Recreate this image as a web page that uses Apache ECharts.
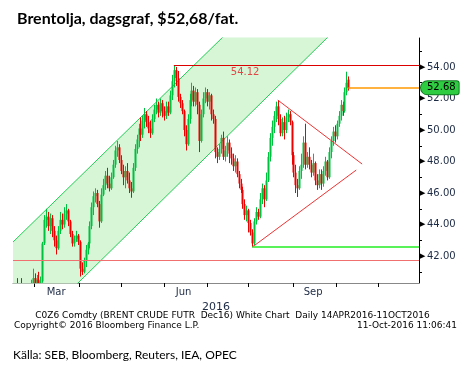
<!DOCTYPE html>
<html><head><meta charset="utf-8">
<script src="https://cdn.jsdelivr.net/npm/echarts@6/dist/echarts.min.js"></script>
<style>html,body{margin:0;padding:0;background:#fff}#c{width:465px;height:373px}</style>
</head><body><div id="c"></div>
<script>
const titleText = 'Brentolja, dagsgraf, $52,68/fat.';
const sourceText = 'Källa: SEB, Bloomberg, Reuters, IEA, OPEC';
const footer1 = 'C0Z6 Comdty (BRENT CRUDE FUTR  Dec16) White Chart  Daily 14APR2016-11OCT2016';
const footer2L = 'Copyright\u00a9 2016 Bloomberg Finance L.P.';
const footer2R = '11-Oct-2016 11:06:41';
const axisYear = '2016';
const firstDay = '2016-02-15', lastDay = '2016-11-30';
const monthLabels = {'2016-03-16':'Mar','2016-06-15':'Jun','2016-09-15':'Sep'};
const yMin = 40.29, yMax = 55.84;
const yLabelValues = [42,44,46,48,50,52,54];
const yMinorValues = [41,43,45,47,49,51,53,55];

// [open, close, low, high]
const candles = [
[39.6,39.3,38.9,39.9],[39.3,39.8,39.1,40.2],[39.8,39.5,39.2,40.6],[39.5,39.2,38.8,39.8],[39.2,38.9,38.6,40.6],
[38.9,38.5,38.2,39.3],[38.5,38.8,38.1,39.2],[38.8,39.4,38.6,39.7],[39.4,39.9,39.2,40.2],[39.9,40.1,39.6,40.5],
[40.1,40.6,39.8,41.2],[40.6,40.2,39.9,40.9],[40.2,40.5,39.9,40.8],[40.5,40.1,39.9,41.0],[40.1,40.4,39.8,40.7],
[40.4,42.8,40.3,42.9],[42.8,44.3,42.7,44.6],[44.3,44.5,43.8,45.0],[44.5,43.9,43.6,44.8],[43.9,44.4,43.4,44.7],
[44.4,43.6,43.2,44.6],[43.6,43.0,42.6,43.9],[43.0,42.5,42.1,43.3],[42.5,43.6,42.4,43.9],[43.6,44.3,43.4,44.8],
[44.3,44.0,43.7,44.7],[44.0,44.7,43.8,45.1],[44.7,44.9,44.3,45.3],[44.9,44.2,43.9,45.0],[44.2,43.4,43.2,44.3],
[43.4,42.8,42.6,43.6],[42.8,43.1,42.6,43.3],[43.1,43.3,42.9,43.6],[43.3,42.9,42.7,43.4],[42.9,41.2,40.7,43.0],
[41.2,41.0,40.8,41.6],[41.0,41.7,40.9,41.9],[41.7,42.4,41.3,42.7],[42.4,42.8,42.1,42.9],[42.8,43.9,42.5,44.2],
[43.9,45.1,43.7,45.4],[45.1,45.8,44.6,46.1],[45.8,46.0,45.4,46.3],[46.0,45.3,45.1,46.2],[45.3,44.2,43.8,45.5],
[44.2,45.9,44.1,46.3],[45.9,46.5,45.8,46.9],[46.5,47.1,46.2,47.4],[47.1,46.6,46.3,47.6],[46.6,46.3,46.1,47.1],
[46.3,47.0,46.2,47.3],[47.0,47.8,46.9,48.1],[47.8,48.7,47.6,49.0],[48.7,48.9,48.3,49.3],[48.9,48.1,47.9,49.1],
[48.1,47.4,47.2,48.4],[47.4,47.0,46.5,47.8],[47.0,47.4,46.3,47.7],[47.4,46.8,46.6,47.9],[46.8,46.3,46.0,47.3],
[46.3,46.1,45.7,46.7],[46.1,47.6,46.0,47.9],[47.6,48.8,47.4,49.1],[48.8,49.4,48.5,49.7],[49.4,50.1,48.9,50.4],
[50.1,49.7,49.3,50.8],[49.7,50.6,49.5,50.9],[50.6,51.0,50.1,51.4],[51.0,50.5,50.2,51.2],[50.5,50.1,49.8,50.9],
[50.1,49.8,49.5,50.6],[49.8,50.7,49.7,51.0],[50.7,51.3,50.5,51.6],[51.3,51.6,51.0,52.0],[51.6,51.1,50.8,51.8],
[51.1,51.7,50.9,52.0],[51.7,51.2,50.8,51.9],[51.2,50.9,50.6,51.5],[50.9,51.5,50.7,51.8],[51.5,51.1,50.9,51.8],
[51.1,52.2,51.0,52.5],[52.2,53.1,51.9,53.5],[53.1,53.8,52.7,54.12],[53.8,53.3,52.8,54.0],[53.3,52.1,51.8,53.75],
[52.1,51.7,51.4,52.3],[51.7,51.2,51.0,51.9],[51.2,50.0,49.6,51.3],[50.0,49.1,48.7,50.3],[49.1,50.7,49.0,51.0],
[50.7,51.9,50.4,52.3],[51.9,52.5,51.5,53.0],[52.5,51.8,51.5,52.8],[51.8,52.4,51.5,52.7],[52.4,51.6,51.0,52.6],
[51.6,49.3,48.6,51.8],[49.3,51.0,49.2,51.3],[51.0,52.0,50.8,52.4],[52.0,52.4,51.7,52.7],[52.4,51.8,51.5,52.6],
[51.8,52.2,51.3,52.4],[52.2,51.0,50.6,52.3],[51.0,50.7,50.4,51.3],[50.7,48.6,48.2,50.9],[48.6,48.3,47.9,48.9],
[48.3,48.8,48.1,49.1],[48.8,49.5,48.5,49.7],[49.5,48.3,48.1,49.9],[48.3,48.7,48.0,49.0],[48.7,49.2,48.3,49.6],
[49.2,48.5,47.9,49.4],[48.5,48.2,47.8,48.9],[48.2,47.7,47.4,48.5],[47.7,48.0,47.3,48.4],[48.0,47.2,47.0,48.2],
[47.2,46.6,46.3,47.4],[46.6,46.2,46.0,46.9],[46.2,45.3,45.0,46.4],[45.3,44.6,44.3,45.6],[44.6,44.9,44.2,45.2],
[44.9,44.1,43.5,45.0],[44.1,43.5,43.3,44.3],[43.5,42.8,42.57,43.7],[42.8,44.2,42.7,44.4],[44.2,44.8,44.0,45.1],
[44.8,44.5,44.3,45.0],[44.5,45.6,44.4,46.0],[45.6,46.3,45.3,46.6],[46.3,45.6,45.1,46.5],[45.6,46.8,45.5,47.3],
[46.8,48.3,46.7,48.6],[48.3,49.5,48.0,49.8],[49.5,50.2,49.0,50.6],[50.2,50.9,49.8,51.2],[50.9,51.5,50.5,51.8],
[51.5,50.7,50.3,51.9],[50.7,49.8,49.6,51.0],[49.8,50.5,49.6,50.8],[50.5,50.0,49.4,50.9],[50.0,50.8,49.8,51.1],
[50.8,51.0,50.5,51.3],[51.0,50.5,50.3,51.2],[50.5,48.4,47.8,50.6],[48.4,47.3,47.0,48.6],[47.3,46.5,46.0,47.8],
[46.5,46.3,45.75,46.9],[46.3,47.4,46.2,47.7],[47.4,47.8,46.9,48.5],[47.8,49.2,47.6,49.6],[49.2,47.8,47.5,50.4],
[47.8,48.3,47.6,48.6],[48.3,47.8,47.5,48.9],[47.8,47.3,47.0,48.1],[47.3,47.9,47.1,48.5],[47.9,46.8,46.5,48.0],
[46.8,46.5,46.2,47.2],[46.5,47.2,46.3,47.5],[47.2,46.6,46.2,47.5],[46.6,47.4,46.4,47.7],[47.4,48.0,47.1,48.3],
[48.0,47.0,46.8,48.1],[47.0,48.6,46.9,48.9],[48.6,49.3,48.2,49.6],[49.3,49.9,49.0,50.2],[49.9,49.6,49.2,50.3],
[49.6,50.4,49.4,50.6],[50.4,50.9,50.2,51.2],[50.9,51.6,50.6,51.9],[51.6,51.2,50.9,51.8],[51.2,52.4,51.1,52.7],
[52.4,53.0,52.2,53.7],[53.2,52.68,52.5,53.4]
];

// trend lines: [category index, price]
const channelLower = [[0,36.23],[171,57.18]];
const channelUpper = [[0,42.89],[171,63.68]];
const triUpper = [[135,51.9],[178,47.84]];
const triLower = [[122,42.57],[175,47.46]];
const resistance = 54.12, resistanceFrom = 82;
const support = 42.57, supportFrom = 122;
const floorLine = 41.75;
const lastPrice = 52.68, lastIdx = 171;

// weekday categories
const dates = [];
for (let d = new Date(firstDay + 'T00:00:00Z'); d <= new Date(lastDay + 'T00:00:00Z'); d.setUTCDate(d.getUTCDate() + 1)) {
  const w = d.getUTCDay();
  if (w > 0 && w < 6) dates.push(d.toISOString().slice(0, 10));
}
const lastCat = dates.length - 1;
const monthStart = new Set();
dates.forEach((s, i) => { if (i > 0 && s.slice(5, 7) !== dates[i - 1].slice(5, 7)) monthStart.add(i); });

const band = channelUpper.map((p, k) => [p[0], p[1] - channelLower[k][1]]);
const candleData = candles.map((c, i) => [i, c[0], c[1], c[2], c[3]]);
const upColor = '#00c040', downColor = '#ee0000';

function renderCandle(params, api) {
  const i = api.value(0);
  const o = api.coord([i, api.value(1)]);
  const c = api.coord([i, api.value(2)]);
  const l = api.coord([i, api.value(3)]);
  const h = api.coord([i, api.value(4)]);
  const col = api.value(2) >= api.value(1) ? upColor : downColor;
  const x = Math.round(o[0]);
  const top = Math.min(o[1], c[1]);
  const bh = Math.max(1, Math.abs(o[1] - c[1]));
  return {
    type: 'group',
    children: [
      { type: 'line', shape: { x1: x + 0.5, y1: l[1], x2: x + 0.5, y2: h[1] }, style: { stroke: col, lineWidth: 1 } },
      { type: 'rect', shape: { x: x - 0.5, y: top, width: 2, height: bh }, style: { fill: col } }
    ]
  };
}

const txt = '#1c2a44';
const chart = echarts.init(document.getElementById('c'));
chart.setOption({
  animation: false,
  backgroundColor: '#fff',
  title: { text: titleText, left: 12, top: 6, textStyle: { fontFamily: 'Lato', fontWeight: 'bold', fontSize: 16, color: '#000' } },
  grid: { left: 13, right: 46, top: 38, bottom: 90 },
  xAxis: {
    type: 'category', data: dates, boundaryGap: false,
    axisLine: { lineStyle: { color: '#888', width: 1 } },
    axisTick: { interval: (i) => monthStart.has(i), length: 4, lineStyle: { color: '#000' } },
    axisLabel: { interval: (i, v) => v in monthLabels, formatter: (v) => monthLabels[v] || '', color: txt, fontFamily: 'DejaVu Sans', fontSize: 10, margin: 4 },
    splitLine: { show: false },
    name: axisYear, nameLocation: 'middle', nameGap: 15,
    nameTextStyle: { color: txt, fontFamily: 'DejaVu Sans', fontSize: 11 }
  },
  yAxis: {
    type: 'value', position: 'right', min: yMin, max: yMax, scale: true,
    splitLine: { show: false },
    axisLine: { show: true, lineStyle: { color: '#000' } },
    axisTick: { show: true, customValues: yMinorValues, length: 3, lineStyle: { color: '#000' } },
    axisLabel: {
      customValues: yLabelValues, margin: 1,
      formatter: (v) => '{t|\u25B6}{v|' + v.toFixed(2) + '}',
      rich: {
        t: { fontSize: 7, color: '#000', padding: [0, 2, 0, 0] },
        v: { fontFamily: 'DejaVu Sans', fontSize: 10, color: txt }
      }
    }
  },
  series: [
    { type: 'line', data: channelLower, stack: 'ch', symbol: 'none', silent: true, z: 1, clip: true,
      lineStyle: { color: '#22cc55', width: 1 } },
    { type: 'line', data: band, stack: 'ch', symbol: 'none', silent: true, z: 1, clip: true,
      lineStyle: { color: '#22cc55', width: 1 }, areaStyle: { color: '#d6f6d6', opacity: 1 } },
    { type: 'custom', data: candleData, renderItem: renderCandle, clip: true, z: 3, silent: true,
      encode: { x: 0, y: [1, 2, 3, 4] } },
    { type: 'line', data: [], symbol: 'none', silent: true, z: 4,
      markLine: {
        silent: true, symbol: ['none', 'none'], animation: false,
        data: [
          [{ coord: [resistanceFrom, resistance], lineStyle: { color: '#dd0000', width: 1.2, type: 'solid' },
             label: { show: true, position: 'insideStartBottom', formatter: String(resistance), distance: [57, 2], color: '#e04848', fontFamily: 'DejaVu Sans', fontSize: 10 } },
           { coord: [lastCat, resistance] }],
          [{ coord: [0, floorLine], lineStyle: { color: '#f07070', width: 1, type: 'solid' }, label: { show: false } },
           { coord: [lastCat, floorLine] }],
          [{ coord: [supportFrom, support], lineStyle: { color: '#22ee22', width: 1.5, type: 'solid' }, label: { show: false } },
           { coord: [lastCat, support] }],
          [{ coord: [lastIdx, lastPrice], lineStyle: { color: '#ff9900', width: 1.5, type: 'solid' },
             label: { show: true, position: 'end', distance: 2, formatter: lastPrice.toFixed(2), color: '#000', fontFamily: 'DejaVu Sans', fontSize: 10,
                      backgroundColor: '#2ecc40', borderColor: '#117a22', borderWidth: 1, borderRadius: [7, 2, 2, 7], padding: [2, 3, 1, 6] } },
           { coord: [lastCat, lastPrice] }]
        ]
      }
    },
    { type: 'line', data: triUpper, symbol: 'none', silent: true, z: 4, lineStyle: { color: '#ee3333', width: 1 } },
    { type: 'line', data: triLower, symbol: 'none', silent: true, z: 4, lineStyle: { color: '#ee3333', width: 1 } }
  ],
  graphic: [
    { type: 'text', left: 'center', top: 311, style: { text: footer1, font: '9px "DejaVu Sans"', fill: '#000' } },
    { type: 'text', left: 14, top: 321, style: { text: footer2L, font: '9px "DejaVu Sans"', fill: '#000' } },
    { type: 'text', right: 8, top: 321, style: { text: footer2R, font: '9px "DejaVu Sans"', fill: '#000' } },
    { type: 'text', left: 13, top: 349, style: { text: sourceText, font: '12px Lato', fill: '#000' } }
  ]
});
</script></body></html>
